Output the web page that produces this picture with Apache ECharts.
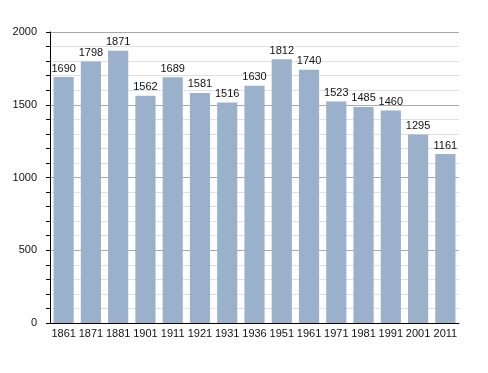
<!DOCTYPE html>
<html><head><meta charset="utf-8">
<script src="https://cdn.jsdelivr.net/npm/echarts@6/dist/echarts.min.js"></script>
<style>html,body{margin:0;padding:0;background:#fff}#c{width:488px;height:373px}</style>
</head><body><div id="c"></div>
<script>
const categories = ['1861','1871','1881','1901','1911','1921','1931','1936','1951','1961','1971','1981','1991','2001','2011'];
const population = [1690,1798,1871,1562,1689,1581,1516,1630,1812,1740,1523,1485,1460,1295,1161];
const yTicks = [0,500,1000,1500,2000];

const FONT = '"Liberation Sans", Arial, sans-serif';
const chart = echarts.init(document.getElementById('c'), null, {renderer:'canvas'});
chart.setOption({
  animation:false,
  textStyle:{fontFamily:FONT},
  grid:{left:50,right:29,top:32,bottom:50,containLabel:false},
  xAxis:{
    type:'category', data:categories,
    axisLine:{show:true,lineStyle:{color:'#000',width:1}},
    axisTick:{show:false},
    axisLabel:{color:'#111',fontSize:11,fontFamily:FONT,margin:5,interval:0}
  },
  yAxis:{
    type:'value', min:yTicks[0], max:yTicks[yTicks.length-1], interval:500,
    axisLine:{show:true,lineStyle:{color:'#000',width:1}},
    axisTick:{show:true,inside:false,length:4,lineStyle:{color:'#000'}},
    minorTick:{show:true,splitNumber:5,length:4,lineStyle:{color:'#000'}},
    axisLabel:{color:'#111',fontSize:11,fontFamily:FONT,margin:13,formatter:v=>String(v)},
    splitLine:{show:true,lineStyle:{color:'#a8a8a8',width:1}},
    minorSplitLine:{show:true,lineStyle:{color:'#e0e0e0',width:1}}
  },
  series:[{
    type:'bar', data:population, barCategoryGap:'26%',
    itemStyle:{color:'#9bb1cb'},
    label:{show:true,position:'top',color:'#111',fontSize:11,fontFamily:FONT,distance:3}
  }]
});
</script></body></html>
